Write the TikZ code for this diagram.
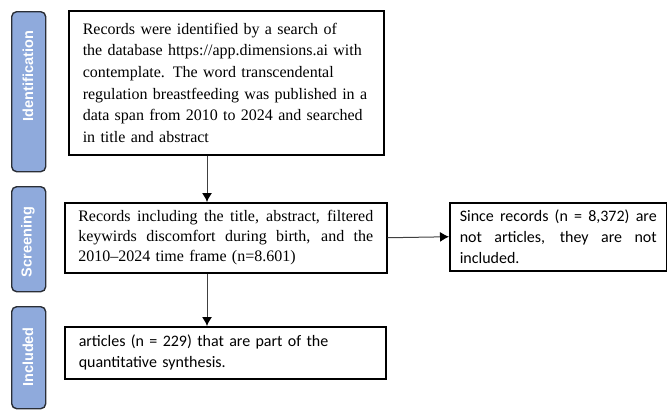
\documentclass[tikz,border=0pt]{standalone}
\usepackage{fontspec}
\setmainfont{Liberation Serif}
\newfontfamily\serfont{Liberation Serif}
\newfontfamily\calfont{Carlito}
\newfontfamily\sidefont{Liberation Sans}
\usetikzlibrary{arrows.meta}
\definecolor{barfill}{HTML}{8FAADC}
\definecolor{barline}{HTML}{2A2E36}
\newcommand{\jline}[2]{\makebox[#1][s]{\spaceskip=0pt\xspaceskip=0pt\relax #2}}
\tikzset{
  sidebar/.style={draw=barline, line width=1.4pt, fill=barfill, rounded corners=5pt,
    minimum width=34pt, anchor=north west, inner sep=0pt},
  sidelabel/.style={text=white, font=\sidefont\bfseries\fontsize{14.5}{16}\selectfont, rotate=90, inner sep=0pt},
  box/.style={draw=black, line width=1.5pt, anchor=north west, inner ysep=2pt},
  serifbox/.style={box, font=\serfont\fontsize{16}{21.6}\selectfont, align=left},
  calbox/.style={box, font=\calfont\fontsize{16}{21}\selectfont, align=left},
  arr/.style={draw=black!75, line width=1pt, -{Latex[length=9pt,width=10pt,color=black]}}
}
\begin{document}
\begin{tikzpicture}[x=1pt,y=-1pt]
\useasboundingbox (0,0) rectangle (667,410);
% side bars
\node[sidebar, minimum height=160pt] (bid) at (11,11) {};
\node[sidelabel] (lid) at (28,76) {Identification};
\node[sidebar, minimum height=105pt] (bsc) at (11,186) {};
\node[sidelabel] (lsc) at (28,242) {Screening};
\node[sidebar, minimum height=102pt] (bin) at (11,306) {};
\node[sidelabel] (lin) at (28,357) {Included};
% boxes
\node[serifbox, text width=287pt, inner xsep=14pt, minimum width=315pt, minimum height=144pt] (ident) at (68,10)
 {Records were identified by a search of\\
  the database https://app.dimensions.ai with\\
  contemplate. The word transcendental\\
  regulation breastfeeding was published in a\\
  data span from 2010 to 2024 and searched\\
  in title and abstract};
\node[serifbox, font=\serfont\fontsize{16}{20}\selectfont, text width=295pt, inner xsep=13.5pt, minimum height=70pt] (screen) at (64,202)
 {\jline{295pt}{Records including the title, abstract, filtered}\\
  \jline{295pt}{keywirds discomfort during birth, and the}\\
  2010–2024 time frame (n=8.601)};
\node[calbox, text width=197pt, inner xsep=10pt, minimum height=68pt] (excl) at (449,202)
 {\jline{197pt}{Since records (n = 8,372) are}\\
  \jline{197pt}{not articles, they are not}\\
  included.};
\node[calbox, text width=293pt, inner xsep=14pt, minimum height=52pt] (incl) at (64,326)
 {articles (n = 229) that are part of the\\
  quantitative synthesis.};
% connectors
\coordinate (ax) at (207,0);
\draw[arr] (ident.south -| ax) -- (screen.north -| ax);
\draw[arr] (screen.south -| ax) -- (incl.north -| ax);
\draw[arr] (screen.east) -- (excl.west);
\end{tikzpicture}
\end{document}
